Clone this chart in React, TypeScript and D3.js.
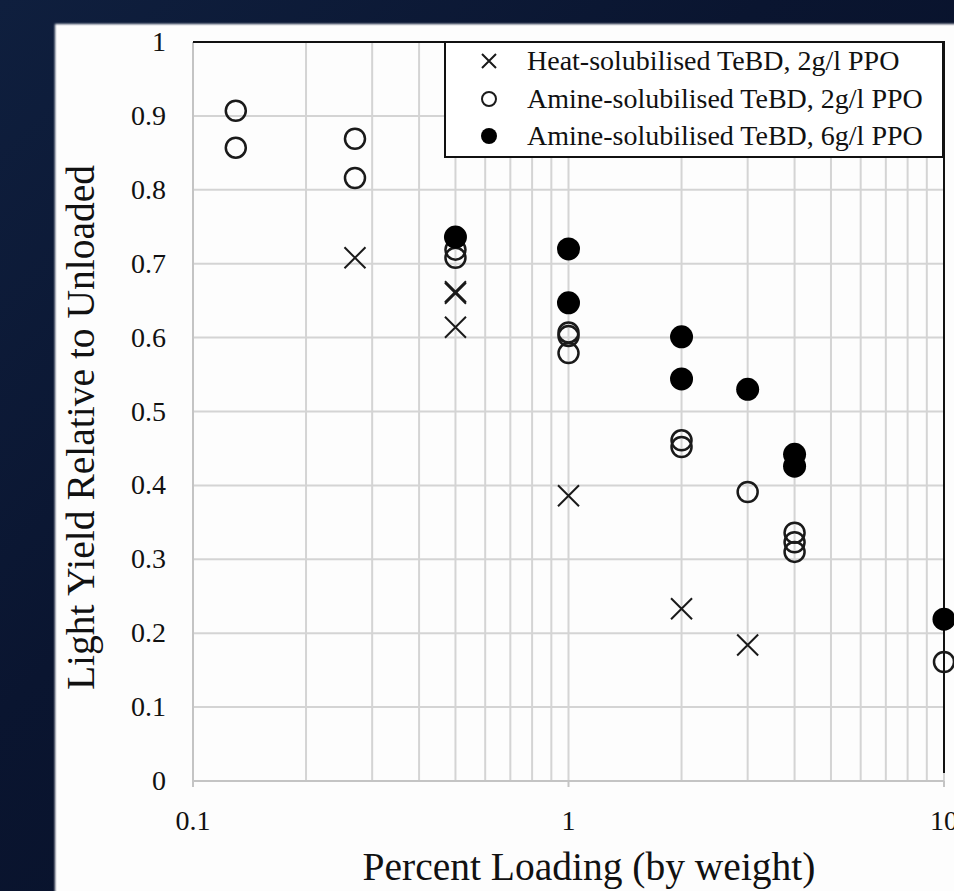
import {useEffect} from 'react';
import * as d3 from 'd3';

const heatX = [0.27, 0.5, 0.5, 0.5, 1, 2, 3];
const heatY = [0.708, 0.66, 0.662, 0.614, 0.386, 0.233, 0.184];

const amine2X = [0.13, 0.13, 0.27, 0.27, 0.5, 0.5, 1, 1, 1, 2, 2, 3, 4, 4, 4, 10];
const amine2Y = [0.907, 0.857, 0.869, 0.816, 0.719, 0.708, 0.607, 0.602, 0.579, 0.461, 0.452, 0.391, 0.336, 0.323, 0.31, 0.161];

const amine6X = [0.5, 1, 1, 2, 2, 3, 4, 4, 10];
const amine6Y = [0.736, 0.72, 0.647, 0.601, 0.544, 0.53, 0.442, 0.426, 0.219];

const yTicks = [0, 0.1, 0.2, 0.3, 0.4, 0.5, 0.6, 0.7, 0.8, 0.9, 1];
const xTicks = [0.1, 1, 10];
const xTickLabels = ['0.1', '1', '10'];
const legendLabels = [
  'Heat-solubilised TeBD, 2g/l PPO',
  'Amine-solubilised TeBD, 2g/l PPO',
  'Amine-solubilised TeBD, 6g/l PPO',
];

const W = 954;
const H = 891;
const left = 193;
const right = 944;
const top = 42;
const bottom = 781;
const font = '"Liberation Serif", "Times New Roman", serif';
const ink = '#1a1a1a';

const Cross = ({x, y, s}: {x: number; y: number; s: number}) => (
  <path
    d={`M${x - s},${y - s}L${x + s},${y + s}M${x - s},${y + s}L${x + s},${y - s}`}
    stroke={ink}
    strokeWidth={2}
    fill='none'
  />
);

const App = () => {
  useEffect(() => {
    document.body.style.margin = '0';
  }, []);

  const x = d3.scaleLog().domain([0.1, 10]).range([left, right]);
  const y = d3.scaleLinear().domain([0, 1]).range([bottom, top]);

  // minor log grid 0.2..0.9, 2..9
  const minor: number[] = [];
  for (const dec of [0.1, 1]) for (let k = 1; k <= 9; k++) minor.push(dec * k);
  minor.push(10);

  return (
    <svg width={W} height={H} style={{display: 'block'}} fontFamily={font}>
      <defs>
        <linearGradient id='bg' x1='0' y1='0' x2='1' y2='1'>
          <stop offset='0%' stopColor='#0f1f3e' />
          <stop offset='40%' stopColor='#0a1530' />
          <stop offset='100%' stopColor='#060e24' />
        </linearGradient>
        <filter id='soft'>
          <feGaussianBlur stdDeviation='1.2' />
        </filter>
      </defs>
      <rect width={W} height={H} fill='url(#bg)' />
      <rect x={55} y={24} width={W} height={H} fill='#fdfdfd' filter='url(#soft)' />

      {/* grid */}
      {yTicks.map((t) => (
        <line key={'h' + t} x1={left} x2={right} y1={y(t)} y2={y(t)} stroke='#d4d4d4' strokeWidth={2} />
      ))}
      {minor.map((t) => (
        <line key={'v' + t} x1={x(t)} x2={x(t)} y1={top} y2={bottom} stroke='#d4d4d4' strokeWidth={2} />
      ))}
      {/* axes */}
      <line x1={left} x2={left} y1={top} y2={bottom} stroke='#c4c4c4' strokeWidth={2} />
      <line x1={left} x2={right} y1={bottom} y2={bottom} stroke='#c4c4c4' strokeWidth={2} />
      {xTicks.map((t) => (
        <line key={'xt' + t} x1={x(t)} x2={x(t)} y1={bottom} y2={bottom + 6} stroke='#c4c4c4' strokeWidth={2} />
      ))}
      <line x1={left} x2={right + 1} y1={top} y2={top} stroke='#111' strokeWidth={2} />
      <line x1={right} x2={right} y1={top} y2={bottom - 8} stroke='#111' strokeWidth={2} />

      {/* tick labels */}
      {yTicks.map((t) => (
        <text key={'yl' + t} x={166} y={y(t) + 9} textAnchor='end' fontSize={28} fill='#111'>
          {t === 0 || t === 1 ? String(t) : t.toFixed(1)}
        </text>
      ))}
      {xTicks.map((t, i) => (
        <text key={'xl' + t} x={x(t)} y={830} textAnchor='middle' fontSize={28} fill='#111'>
          {xTickLabels[i]}
        </text>
      ))}

      {/* axis titles */}
      <text x={589} y={880} textAnchor='middle' fontSize={39.5} fill='#111'>
        Percent Loading (by weight)
      </text>
      <text
        transform={`translate(94,${(top + bottom) / 2 + 16}) rotate(-90)`}
        textAnchor='middle'
        fontSize={39.5}
        fill='#111'
      >
        Light Yield Relative to Unloaded
      </text>

      {/* data */}
      {amine2X.map((v, i) => (
        <circle key={'a2' + i} cx={x(v)} cy={y(amine2Y[i])} r={10} fill='none' stroke={ink} strokeWidth={2.5} />
      ))}
      {amine6X.map((v, i) => (
        <circle key={'a6' + i} cx={x(v)} cy={y(amine6Y[i])} r={11.5} fill='#000' />
      ))}
      {heatX.map((v, i) => (
        <Cross key={'h' + i} x={x(v)} y={y(heatY[i])} s={10.5} />
      ))}

      {/* legend */}
      <rect x={445} y={42} width={498} height={115} fill='#fff' stroke='#111' strokeWidth={2} />
      <Cross x={489} y={61} s={7} />
      <circle cx={489} cy={99} r={7} fill='none' stroke={ink} strokeWidth={2} />
      <circle cx={489} cy={136} r={8} fill='#000' />
      {legendLabels.map((l, i) => (
        <text key={l} x={527} y={70 + i * 37.5} fontSize={28} fill='#111'>
          {l}
        </text>
      ))}
    </svg>
  );
};

export default App;
